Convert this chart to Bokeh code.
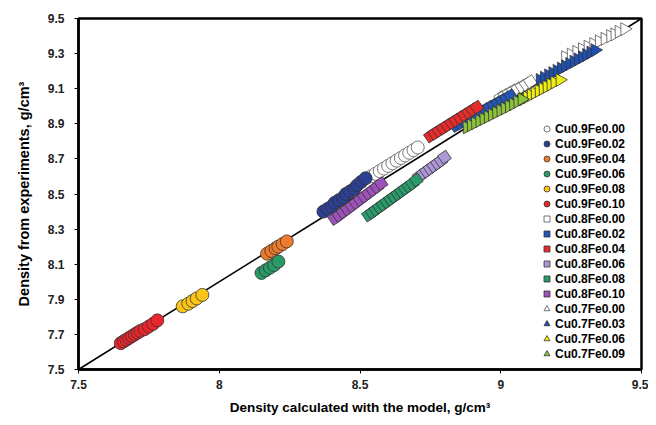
from bokeh.plotting import figure
from bokeh.models import Legend, LegendItem, FixedTicker, NumeralTickFormatter, Range1d
from bokeh.embed import file_html
from bokeh.resources import INLINE

# ---- data ----
labels = ["Cu0.9Fe0.00", "Cu0.9Fe0.02", "Cu0.9Fe0.04", "Cu0.9Fe0.06", "Cu0.9Fe0.08", "Cu0.9Fe0.10",
          "Cu0.8Fe0.00", "Cu0.8Fe0.02", "Cu0.8Fe0.04", "Cu0.8Fe0.06", "Cu0.8Fe0.08", "Cu0.8Fe0.10",
          "Cu0.7Fe0.00", "Cu0.7Fe0.03", "Cu0.7Fe0.06", "Cu0.7Fe0.09"]

x_090_000 = [8.54, 8.555, 8.57, 8.585, 8.60, 8.615, 8.63, 8.645, 8.66, 8.675, 8.69, 8.705]
y_090_000 = [8.60, 8.615, 8.63, 8.645, 8.66, 8.675, 8.69, 8.705, 8.72, 8.735, 8.75, 8.765]
x_090_002 = [8.37, 8.385, 8.40, 8.41, 8.425, 8.44, 8.45, 8.465, 8.48, 8.49, 8.505, 8.52]
y_090_002 = [8.40, 8.415, 8.43, 8.45, 8.465, 8.48, 8.50, 8.515, 8.53, 8.55, 8.57, 8.59]
x_090_004 = [8.17, 8.185, 8.20, 8.21, 8.225, 8.24]
y_090_004 = [8.16, 8.175, 8.19, 8.20, 8.215, 8.23]
x_090_006 = [8.15, 8.165, 8.18, 8.195, 8.21]
y_090_006 = [8.05, 8.065, 8.08, 8.095, 8.115]
x_090_008 = [7.87, 7.89, 7.905, 7.92, 7.94]
y_090_008 = [7.86, 7.875, 7.89, 7.905, 7.925]
x_090_010 = [7.65, 7.66, 7.67, 7.68, 7.69, 7.70, 7.71, 7.72, 7.735, 7.75, 7.765, 7.78]
y_090_010 = [7.65, 7.66, 7.67, 7.68, 7.69, 7.70, 7.71, 7.72, 7.73, 7.745, 7.76, 7.78]

x_080_000 = [9.00, 9.015, 9.03, 9.045, 9.06, 9.075, 9.09, 9.105]
y_080_000 = [9.05, 9.062, 9.075, 9.088, 9.10, 9.112, 9.125, 9.14]
x_080_002 = [8.84, 8.855, 8.87, 8.885, 8.90, 8.915, 8.93, 8.945, 8.96, 8.975, 8.99, 9.005, 9.02, 9.035]
y_080_002 = [8.89, 8.903, 8.916, 8.929, 8.942, 8.955, 8.968, 8.981, 8.994, 9.007, 9.02, 9.033, 9.046, 9.06]
x_080_004 = [8.75, 8.765, 8.78, 8.795, 8.81, 8.825, 8.84, 8.855, 8.87, 8.885, 8.90, 8.915]
y_080_004 = [8.83, 8.845, 8.86, 8.875, 8.89, 8.905, 8.92, 8.935, 8.95, 8.965, 8.98, 8.995]
x_080_006 = [8.71, 8.723, 8.736, 8.749, 8.762, 8.775, 8.788, 8.80]
y_080_006 = [8.60, 8.615, 8.63, 8.645, 8.66, 8.675, 8.69, 8.71]
x_080_008 = [8.53, 8.543, 8.556, 8.569, 8.582, 8.595, 8.608, 8.621, 8.634, 8.647, 8.66, 8.673, 8.686, 8.70]
y_080_008 = [8.38, 8.395, 8.41, 8.425, 8.44, 8.455, 8.47, 8.485, 8.50, 8.515, 8.53, 8.545, 8.56, 8.58]
x_080_010 = [8.41, 8.425, 8.44, 8.455, 8.47, 8.485, 8.50, 8.515, 8.53, 8.545, 8.56, 8.575]
y_080_010 = [8.36, 8.378, 8.396, 8.414, 8.432, 8.45, 8.468, 8.486, 8.504, 8.522, 8.54, 8.56]

x_070_000 = [9.23, 9.25, 9.27, 9.29, 9.31, 9.33, 9.35, 9.37, 9.39, 9.405, 9.42, 9.44]
y_070_000 = [9.28, 9.295, 9.31, 9.325, 9.34, 9.355, 9.37, 9.385, 9.40, 9.41, 9.425, 9.44]
x_070_003 = [9.14, 9.155, 9.17, 9.185, 9.20, 9.215, 9.23, 9.245, 9.26, 9.275, 9.29, 9.305, 9.32, 9.335]
y_070_003 = [9.15, 9.163, 9.176, 9.189, 9.202, 9.215, 9.228, 9.241, 9.254, 9.267, 9.28, 9.293, 9.306, 9.32]
x_070_006 = [9.08, 9.094, 9.108, 9.122, 9.136, 9.15, 9.164, 9.178, 9.192, 9.21]
y_070_006 = [9.04, 9.052, 9.064, 9.076, 9.088, 9.10, 9.112, 9.124, 9.136, 9.15]
x_070_009 = [8.88, 8.895, 8.91, 8.925, 8.94, 8.955, 8.97, 8.985, 9.00, 9.015, 9.03, 9.045, 9.06, 9.075]
y_070_009 = [8.88, 8.892, 8.904, 8.916, 8.928, 8.94, 8.952, 8.964, 8.976, 8.988, 9.00, 9.012, 9.026, 9.04]

xs = [x_090_000, x_090_002, x_090_004, x_090_006, x_090_008, x_090_010,
      x_080_000, x_080_002, x_080_004, x_080_006, x_080_008, x_080_010,
      x_070_000, x_070_003, x_070_006, x_070_009]
ys = [y_090_000, y_090_002, y_090_004, y_090_006, y_090_008, y_090_010,
      y_080_000, y_080_002, y_080_004, y_080_006, y_080_008, y_080_010,
      y_070_000, y_070_003, y_070_006, y_070_009]

line_x = [7.5, 9.5]
line_y = [7.5, 9.5]
x_ticks = [7.5, 8, 8.5, 9, 9.5]
y_ticks = [7.5, 7.7, 7.9, 8.1, 8.3, 8.5, 8.7, 8.9, 9.1, 9.3, 9.5]

# ---- styles ----
fills = ["#ffffff", "#2b3f93", "#ee7a2e", "#2a9a66", "#fcc419", "#e8262c",
         "#ffffff", "#2455b8", "#e62b2b", "#ad98d6", "#2a9a6a", "#9c52b8",
         "#ffffff", "#1f4fae", "#eeee10", "#8cc43c"]
markers = ["circle"] * 6 + ["square"] * 6 + ["triangle"] * 4
sizes = [13] * 6 + [10] * 6 + [13] * 4
angles = [0] * 6 + [0.6] * 6 + [0.55] * 4

p = figure(width=648, height=417, output_backend="svg", toolbar_location=None,
           x_range=Range1d(7.5, 9.5), y_range=Range1d(7.5, 9.5),
           min_border_left=78, min_border_right=7, min_border_top=18, min_border_bottom=44)
p.background_fill_color = "white"
p.border_fill_color = "white"
p.outline_line_color = "black"
p.outline_line_width = 2.5
p.xgrid.visible = False
p.ygrid.visible = False

p.line(line_x, line_y, line_color="black", line_width=1.6)

items = []
for i in range(len(labels)):
    lc = "#555555" if fills[i] == "#ffffff" else "#333333"
    r = p.scatter(xs[i], ys[i], marker=markers[i], size=sizes[i], angle=angles[i],
                  fill_color=fills[i], line_color=lc, line_width=0.8)
    items.append(LegendItem(label=labels[i], renderers=[r]))

legend = Legend(items=items, location=(461, 8), padding=0, margin=0, spacing=0,
                glyph_width=15, glyph_height=15, label_height=15, label_standoff=1,
                border_line_color=None, background_fill_alpha=0,
                label_text_font="Liberation Sans", label_text_font_style="bold",
                label_text_font_size="12px", label_text_color="black")
p.add_layout(legend, "center")

for ax in (p.xaxis, p.yaxis):
    ax.axis_line_width = 2.5
    ax.axis_line_color = "black"
    ax.major_tick_line_color = "black"
    ax.major_tick_line_width = 1
    ax.major_tick_in = 0
    ax.major_tick_out = 4
    ax.minor_tick_line_color = None
    ax.major_label_text_font = "Liberation Sans"
    ax.major_label_text_font_style = "bold"
    ax.major_label_text_font_size = "12px"
    ax.major_label_text_color = "#222222"
    ax.axis_label_text_font = "Liberation Sans"
    ax.axis_label_text_font_style = "bold"
    ax.axis_label_text_color = "black"

p.xaxis.axis_label_text_font_size = "13.5px"
p.yaxis.axis_label_text_font_size = "14.5px"
p.xaxis.ticker = FixedTicker(ticks=x_ticks)
p.yaxis.ticker = FixedTicker(ticks=y_ticks)
p.xaxis.formatter = NumeralTickFormatter(format="0.[0]")
p.yaxis.formatter = NumeralTickFormatter(format="0.0")
p.xaxis.major_label_standoff = 6
p.yaxis.major_label_standoff = 10
p.xaxis.axis_label = "Density calculated with the model, g/cm³"
p.yaxis.axis_label = "Density from experiments, g/cm³"
p.xaxis.axis_label_standoff = 8
p.yaxis.axis_label_standoff = 13

open("out.html", "w").write(file_html(p, INLINE))
